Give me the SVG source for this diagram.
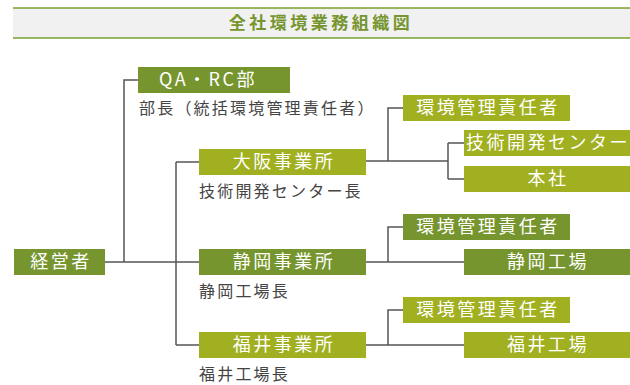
<svg xmlns="http://www.w3.org/2000/svg" width="630" height="385" viewBox="0 0 630 385">
<style>
.dk{fill:#76952e}
.lt{fill:#a1b020}
.bt{font-family:"Noto Sans CJK JP","Noto Sans",sans-serif;font-size:18px;fill:#fff;text-anchor:middle;letter-spacing:2.5px}
.lb{font-family:"Noto Sans CJK JP","Noto Sans",sans-serif;font-size:16px;fill:#444;letter-spacing:2.2px}
.ln{fill:none;stroke:#555;stroke-width:1.5}
</style>
<rect x="0" y="0" width="630" height="385" fill="#fff"/>
<g id="title">
<rect x="13" y="8" width="617" height="30" fill="#f0f1f0"/>
<line x1="13" y1="8" x2="630" y2="8" stroke="#7aa02e" stroke-width="1.5"/>
<line x1="13" y1="38" x2="630" y2="38" stroke="#7aa02e" stroke-width="1.5"/>
<text x="321" y="29" font-family="Noto Sans CJK JP,sans-serif" font-size="17" font-weight="bold" fill="#76952e" text-anchor="middle" letter-spacing="3.5">全社環境業務組織図</text>
</g>
<g id="connectors">
<path class="ln" d="M105 262H199M124 262V80H138M176 162V345M176 162H199M176 345H199"/>
<path class="ln" d="M366 161H448M388 161V108H403M448 143V179M448 143H464M448 179H464"/>
<path class="ln" d="M366 262H464M388 262V227H403"/>
<path class="ln" d="M366 345H464M388 345V310H403"/>
</g>
<g id="ceo"><rect class="dk" x="14" y="249" width="91" height="26"/><text class="bt" x="61" y="268">経営者</text></g>
<g id="qarc"><rect class="dk" x="138" y="67" width="152" height="26"/><text class="bt" x="208" y="86" letter-spacing="1">QA・RC部</text>
<text class="lb" x="139" y="114">部長（統括環境管理責任者）</text></g>
<g id="osaka"><rect class="lt" x="199" y="149" width="167" height="26"/><text class="bt" x="284" y="168">大阪事業所</text>
<text class="lb" x="199" y="197">技術開発センター長</text></g>
<g id="shizuoka"><rect class="dk" x="199" y="249" width="167" height="26"/><text class="bt" x="284" y="268">静岡事業所</text>
<text class="lb" x="199" y="297">静岡工場長</text></g>
<g id="fukui"><rect class="lt" x="199" y="332" width="167" height="26"/><text class="bt" x="284" y="351">福井事業所</text>
<text class="lb" x="199" y="380">福井工場長</text></g>
<g id="osaka-env"><rect class="lt" x="403" y="95" width="167" height="26"/><text class="bt" x="488" y="114">環境管理責任者</text></g>
<g id="techcenter"><rect class="lt" x="464" y="130" width="166" height="26"/><text class="bt" x="548" y="149" letter-spacing="1">技術開発センター</text></g>
<g id="honsha"><rect class="lt" x="464" y="166" width="166" height="26"/><text class="bt" x="548" y="185">本社</text></g>
<g id="shizuoka-env"><rect class="dk" x="403" y="214" width="167" height="26"/><text class="bt" x="488" y="233">環境管理責任者</text></g>
<g id="shizuoka-plant"><rect class="dk" x="464" y="249" width="166" height="26"/><text class="bt" x="548" y="268">静岡工場</text></g>
<g id="fukui-env"><rect class="lt" x="403" y="297" width="167" height="26"/><text class="bt" x="488" y="316">環境管理責任者</text></g>
<g id="fukui-plant"><rect class="lt" x="464" y="332" width="166" height="26"/><text class="bt" x="548" y="351">福井工場</text></g>
</svg>
